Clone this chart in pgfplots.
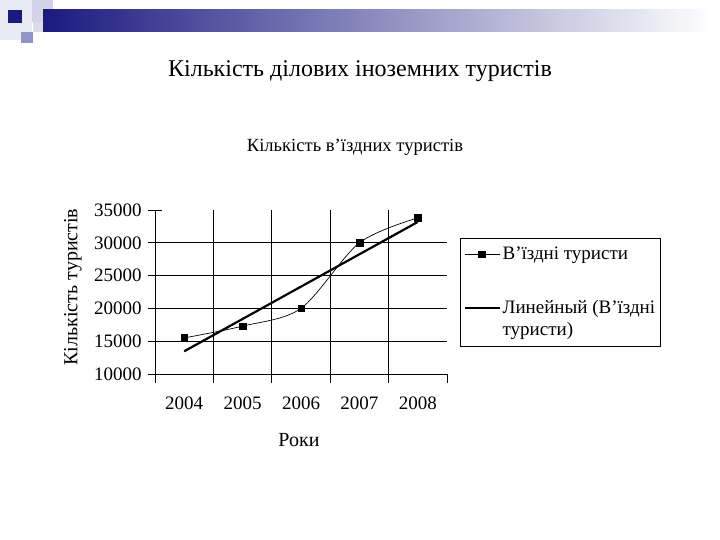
\documentclass[border=0pt]{standalone}
\usepackage{fontspec}
\setmainfont{Liberation Serif}
\usepackage{pgfplots}
\pgfplotsset{compat=1.18}

\definecolor{navy}{HTML}{1A1A80}
\definecolor{lavlight}{HTML}{D2D2E8}
\definecolor{lavmid}{HTML}{9494C6}

% legend image for the trend line: the line sits on the first of two text lines
\pgfplotsset{trend legend/.style={
    legend image code/.code={
        \draw[##1] (0bp,11bp) -- (35bp,11bp);
    }}}

\begin{document}
\begin{tikzpicture}[x=1bp,y=1bp]
% slide background and header decoration
\fill[white] (0,0) rectangle (720,540);
\fill[lavlight!50] (0,500) rectangle (32,540);
\fill[lavlight] (32,518) rectangle (53,540);
\fill[lavlight!80] (33,508) rectangle (43,518);
\shade[left color=navy, right color=white] (43,508) rectangle (712,530);
\fill[navy] (8,517) rectangle (22,530);
\fill[lavmid] (21,497) rectangle (33,508);
\node[font=\fontsize{24bp}{28bp}\selectfont] at (360,469) {Кількість ділових іноземних туристів};

\begin{axis}[
    at={(155bp,166bp)}, anchor=south west,
    width=292bp, height=164bp, scale only axis,
    xmin=2003.5, xmax=2008.5,
    ymin=10000, ymax=35000,
    axis x line*=bottom, axis y line*=left,
    axis line style={black, line width=0.8pt},
    xtick={2004,2005,2006,2007,2008},
    xticklabels={2004,2005,2006,2007,2008},
    major x tick style={draw=none},
    minor xtick={2003.5,2008.5},
    minor tick length=9bp,
    minor x tick style={black, line width=0.8pt},
    extra x ticks={2004.5,2005.5,2006.5,2007.5},
    extra x tick labels={},
    extra x tick style={grid=major, tick align=outside, major tick length=9bp,
                        major x tick style={draw=black, line width=0.8pt}},
    ytick={10000,15000,20000,25000,30000,35000},
    yticklabels={10000,15000,20000,25000,30000,35000},
    scaled y ticks=false,
    extra y ticks={15000,20000,25000,30000},
    extra y tick labels={},
    extra y tick style={grid=major},
    ytick align=center, major tick length=14bp,
    tick style={black, line width=0.8pt},
    grid style={black, line width=0.8pt},
    xtick align=outside,
    tick label style={font=\fontsize{19bp}{22bp}\selectfont},
    xticklabel style={yshift=-5bp},
    yticklabel style={xshift=-3bp},
    title={Кількість в’їздних туристів},
    title style={font=\fontsize{18.6bp}{22bp}\selectfont,
                 at={(axis description cs:0.685,1.348)}, anchor=center},
    xlabel={Роки},
    xlabel style={font=\fontsize{20bp}{24bp}\selectfont,
                  at={(axis description cs:0.493,-0.40)}, anchor=center},
    ylabel={Кількість туристів},
    ylabel style={font=\fontsize{20bp}{24bp}\selectfont,
                  at={(axis description cs:-0.281,0.53)}, anchor=center, rotate=0},
    legend style={at={(axis description cs:1.045,0.829)}, anchor=north west,
                  draw=black, line width=0.6pt, inner xsep=3bp, inner ysep=7bp,
                  font=\fontsize{19bp}{22bp}\selectfont,
                  row sep=35bp,
                  cells={anchor=west, align=left}},
    legend cell align=left,
    legend image code/.code={
        \draw[mark repeat=2, mark phase=2, #1]
            plot coordinates {(0bp,0bp) (17bp,0bp) (35bp,0bp)};
    },
    clip=false,
]
\addplot[black, line width=0.7pt, smooth, tension=0.5,
         mark=square*, mark size=3.3bp,
         mark options={solid, fill=black, line width=0.4pt}]
    coordinates {
    (2004,15500) (2005,17300) (2006,20000) (2007,30000) (2008,33800)
};
% linear trend of the series above
\addplot[black, line width=2.2pt, no marks, trend legend] coordinates {
    (2004,13460) (2008,33180)
};
\legend{В’їздні туристи, {Линейный (В’їздні\\туристи)}}
\end{axis}
\end{tikzpicture}
\end{document}
